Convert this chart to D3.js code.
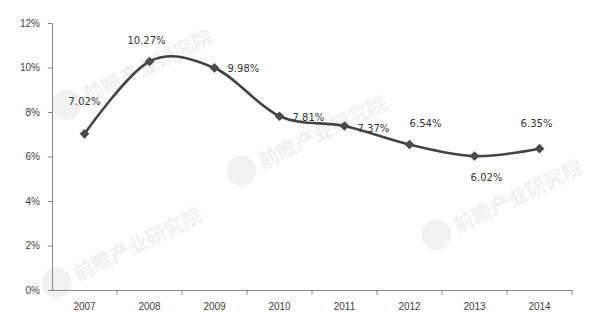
<!DOCTYPE html>
<html>
<head>
<meta charset="utf-8">
<script src="https://cdn.jsdelivr.net/npm/d3@7"></script>
<style>
  body { margin: 0; background: #fff; }
  svg { display: block; }
</style>
</head>
<body>
<div id="chart"></div>
<script>
const years = ['2007', '2008', '2009', '2010', '2011', '2012', '2013', '2014']
const rates = [7.02, 10.27, 9.98, 7.81, 7.37, 6.54, 6.02, 6.35]
const yTicks = [0, 2, 4, 6, 8, 10, 12]
const watermarkText = '前瞻产业研究院'

const w = 601
const h = 332
const margin = { top: 23, right: 29, bottom: 42, left: 52 }

// where each value label sits relative to its marker
const labelOffsets = [
  { dx: 0, dy: -32, anchor: 'middle' },
  { dx: -3, dy: -21, anchor: 'middle' },
  { dx: 13, dy: 1, anchor: 'start' },
  { dx: 13, dy: 1, anchor: 'start' },
  { dx: 13, dy: 2, anchor: 'start' },
  { dx: 16, dy: -21, anchor: 'middle' },
  { dx: 12, dy: 21, anchor: 'middle' },
  { dx: -3, dy: -25, anchor: 'middle' }
]

const svg = d3.select('#chart').append('svg')
  .attr('width', w)
  .attr('height', h)
  .style('font-family', '"DejaVu Sans", sans-serif')
  .style('font-size', '10px')

// faint watermarks
const marks = [[70, 112], [245, 178], [440, 242], [60, 290]]
svg.append('g')
  .selectAll('g')
  .data(marks)
  .join('g')
    .attr('transform', d => `translate(${d[0]}, ${d[1]}) rotate(-26)`)
    .each(function () {
      const g = d3.select(this)
      g.append('circle').attr('cx', 0).attr('cy', -8).attr('r', 15).attr('fill', '#f1f1f1')
      g.append('text')
        .attr('x', 20)
        .attr('y', 0)
        .attr('fill', '#f0f0f0')
        .style('font-family', '"Noto Sans CJK SC", sans-serif')
        .style('font-size', '20px')
        .style('font-weight', 'bold')
        .text(watermarkText)
    })

const x = d3.scaleBand()
  .domain(years)
  .range([margin.left, w - margin.right])

const y = d3.scaleLinear()
  .domain([0, 12])
  .range([h - margin.bottom, margin.top])

const axisColor = '#868686'

const yAxis = svg.append('g')
  .attr('transform', `translate(${margin.left}, 0)`)
  .call(d3.axisLeft(y).tickValues(yTicks).tickSize(4).tickPadding(8).tickFormat(d => d + '%'))
yAxis.select('.domain').attr('stroke', axisColor)
yAxis.selectAll('.tick line').attr('stroke', axisColor)
yAxis.selectAll('.tick text').attr('fill', '#404040').style('font-size', '10px')

const xAxis = svg.append('g')
  .attr('transform', `translate(0, ${h - margin.bottom})`)
  .call(d3.axisBottom(x).tickSize(0).tickPadding(13))
xAxis.select('.domain').attr('stroke', axisColor)
xAxis.selectAll('.tick text').attr('fill', '#404040').style('font-size', '10px')

// tick marks between categories
xAxis.selectAll('.bound')
  .data(years)
  .join('line')
    .attr('x1', (d, i) => x(d) + x.step())
    .attr('x2', (d, i) => x(d) + x.step())
    .attr('y1', 0)
    .attr('y2', 5)
    .attr('stroke', axisColor)

const points = years.map((yr, i) => [x(yr) + x.bandwidth() / 2, y(rates[i])])

svg.append('path')
  .attr('d', d3.line().curve(d3.curveCardinal.tension(0))(points))
  .attr('fill', 'none')
  .attr('stroke', '#444')
  .attr('stroke-width', 2.6)

svg.append('g')
  .selectAll('path')
  .data(points)
  .join('path')
    .attr('transform', d => `translate(${d[0]}, ${d[1]})`)
    .attr('d', d3.symbol(d3.symbolDiamond2, 60))
    .attr('fill', '#4a4a4a')

svg.append('g')
  .selectAll('text')
  .data(points)
  .join('text')
    .attr('x', (d, i) => d[0] + labelOffsets[i].dx)
    .attr('y', (d, i) => d[1] + labelOffsets[i].dy)
    .attr('dy', '0.35em')
    .attr('text-anchor', (d, i) => labelOffsets[i].anchor)
    .attr('fill', '#333')
    .text((d, i) => rates[i].toFixed(2) + '%')
</script>
</body>
</html>
